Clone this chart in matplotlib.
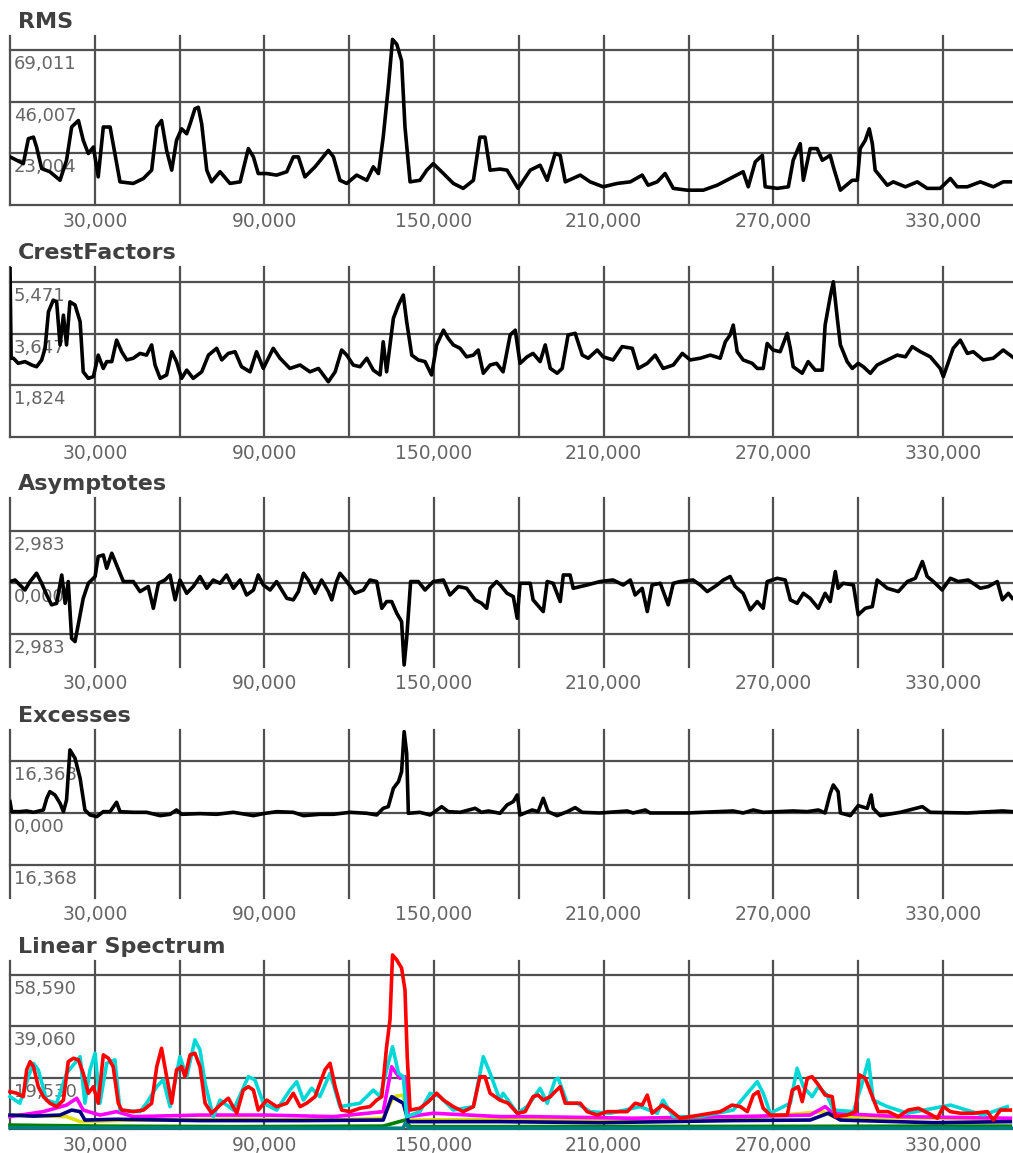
import matplotlib
matplotlib.use("Agg")
import matplotlib.pyplot as plt

# ---- data (x shared scale, 0 .. ~355) ----
x_grid = [0, 30, 60, 90, 120, 150, 180, 210, 240, 270, 300, 330]
x_labeled = [30, 90, 150, 210, 270, 330]
x_max = 354.75

rms_x = [0, 2.4, 4.7, 6.5, 8.3, 9.4, 11.2, 14.1, 17.7, 20.0, 21.8, 24.2, 25.9, 27.7, 29.5, 31.2, 33.0,
         35.4, 37.1, 38.9, 43.6, 47.2, 50.1, 51.9, 53.6, 55.4, 57.2, 58.9, 60.7, 62.5, 63.7, 65.4, 66.6,
         67.8, 69.6, 71.3, 74.3, 77.8, 81.4, 84.3, 86.1, 87.8, 90.8, 94.3, 97.9, 100.2, 102.0, 104.3,
         107.9, 112.6, 114.4, 116.7, 119.1, 122.6, 126.2, 128.5, 130.3, 132.0, 133.8, 135.3, 136.8,
         138.5, 139.7, 141.5, 145.0, 147.4, 149.7, 153.3, 156.8, 160.3, 163.9, 166.2, 168.0, 169.8,
         173.3, 175.8, 179.7, 184.0, 187.5, 190.0, 192.8, 194.6, 196.4, 201.7, 205.2, 209.8, 214.8,
         219.4, 223.6, 225.7, 228.9, 231.7, 234.6, 239.5, 245.2, 250.1, 255.8, 259.3, 261.1, 263.6,
         266.1, 267.1, 271.4, 275.3, 277.0, 279.5, 280.6, 283.0, 285.5, 287.3, 290.1, 291.2, 293.7,
         297.9, 299.7, 300.7, 302.5, 303.9, 305.0, 306.0, 310.3, 312.4, 316.7, 320.9, 324.4, 329.0,
         332.6, 335.0, 338.6, 343.2, 347.8, 351.3, 353.8]
rms_y = [21.4, 19.9, 18.4, 29.5, 30.2, 25.8, 16.2, 14.8, 11.0, 19.9, 34.7, 37.6, 28.8, 22.9, 25.8, 12.5,
         34.7, 34.7, 22.9, 10.3, 9.6, 11.8, 15.5, 34.7, 37.6, 24.3, 15.5, 28.8, 33.9, 31.7, 36.1, 42.8,
         43.5, 36.1, 15.5, 10.3, 14.8, 9.6, 10.3, 25.1, 21.4, 14.0, 14.0, 13.3, 14.8, 21.4, 21.4, 12.5,
         17.0, 24.3, 21.4, 11.0, 9.6, 13.3, 11.0, 17.0, 14.0, 30.2, 52.4, 73.7, 71.5, 64.2, 34.7, 10.3,
         11.0, 15.5, 18.4, 14.0, 9.6, 7.4, 11.0, 30.2, 30.2, 15.5, 16.0, 15.5, 7.4, 15.5, 17.7, 11.0,
         22.9, 22.1, 10.3, 13.3, 10.3, 8.1, 9.6, 10.3, 13.3, 8.8, 10.3, 14.0, 7.4, 6.6, 6.6, 8.8, 12.5,
         14.8, 8.1, 19.2, 22.1, 8.1, 7.4, 8.1, 19.9, 27.3, 11.0, 25.1, 25.1, 19.9, 22.1, 17.0, 6.6,
         11.0, 11.0, 25.1, 28.8, 33.9, 27.3, 15.5, 8.8, 10.3, 8.1, 10.3, 7.4, 7.4, 11.8, 8.1, 8.1,
         10.3, 8.1, 10.3, 10.3]

crest_x = [0, 0.4, 1.2, 2.9, 5.3, 7.7, 9.4, 11.2, 12.4, 13.6, 15.3, 16.5, 17.7, 18.9, 20.0, 21.2, 23.0,
           24.8, 25.9, 27.7, 29.5, 31.2, 33.0, 34.2, 36.0, 37.7, 39.5, 41.3, 43.6, 46.0, 48.3, 50.1,
           51.3, 53.1, 55.4, 57.2, 58.9, 60.7, 62.5, 64.8, 67.8, 70.2, 73.1, 74.9, 77.2, 79.6, 81.9,
           84.9, 87.2, 89.6, 93.1, 95.5, 99.0, 102.6, 106.1, 109.1, 112.6, 115.0, 117.3, 119.1, 121.4,
           123.8, 126.2, 128.5, 130.9, 132.0, 133.2, 135.6, 137.4, 139.1, 140.3, 142.1, 144.4, 146.8,
           149.1, 150.9, 153.3, 155.0, 156.8, 159.2, 161.5, 163.9, 165.6, 167.4, 169.8, 172.1,
           174.4, 176.9, 178.7, 180.4, 182.9, 185.0, 187.5, 189.3, 191.1, 193.5, 195.3, 197.4, 199.9,
           202.4, 204.5, 207.7, 209.8, 213.3, 216.5, 220.1, 222.2, 225.4, 228.2, 231.0, 234.6, 237.8,
           240.6, 244.1, 247.7, 251.2, 253.0, 254.7, 255.8, 257.2, 259.3, 262.5, 264.3, 266.4, 267.8,
           269.9, 272.4, 274.9, 276.0, 277.0, 280.2, 282.3, 284.8, 287.3, 288.3, 290.1, 291.2, 292.6,
           293.7, 296.1, 297.9, 300.0, 301.8, 304.3, 306.7, 310.3, 313.8, 316.7, 319.1, 322.0, 325.5,
           329.0, 330.1, 333.6, 336.1, 338.6, 340.7, 344.2, 347.8, 351.3, 354.5]
crest_y = [6.0, 2.78, 2.78, 2.60, 2.66, 2.54, 2.48, 2.72, 3.13, 4.42, 4.83, 4.77, 3.25, 4.30, 3.25, 4.77,
           4.66, 4.07, 2.30, 2.07, 2.13, 2.89, 2.42, 2.66, 2.66, 3.42, 3.01, 2.72, 2.78, 2.95, 2.89,
           3.25, 2.54, 2.07, 2.19, 3.01, 2.66, 2.07, 2.36, 2.07, 2.30, 2.89, 3.13, 2.72, 2.95, 3.01,
           2.48, 2.30, 3.01, 2.42, 3.13, 2.78, 2.42, 2.54, 2.30, 2.42, 1.95, 2.30, 3.07, 2.89, 2.54,
           2.48, 2.78, 2.36, 2.19, 3.36, 2.30, 4.19, 4.66, 5.01, 4.07, 2.89, 2.72, 2.66, 2.19, 3.25,
           3.77, 3.48, 3.25, 3.13, 2.83, 2.89, 3.07, 2.25, 2.54, 2.60,
           2.30, 3.60, 3.77, 2.60, 2.83, 2.95, 2.66, 3.25, 2.42, 2.25, 2.42, 3.60, 3.66, 2.89, 2.78,
           3.07, 2.83, 2.72, 3.19, 3.13, 2.42, 2.60, 2.89, 2.42, 2.54, 2.95, 2.72, 2.78, 2.89, 2.78,
           3.36, 3.60, 3.95, 3.01, 2.72, 2.60, 2.42, 2.42, 3.30, 3.07, 3.01, 3.66, 3.13, 2.48, 2.25,
           2.66, 2.36, 2.36, 3.95, 4.95, 5.48, 4.19, 3.25, 2.66, 2.42, 2.60, 2.48, 2.25, 2.54, 2.72,
           2.89, 2.83, 3.19, 3.01, 2.83, 2.42, 2.13, 3.13, 3.42, 2.95, 3.01, 2.72, 2.78, 3.07, 2.83]

asym_x = [0, 1.8, 3.5, 5.3, 7.1, 9.4, 11.2, 13.0, 14.7, 16.5, 18.3, 19.5, 20.6, 21.8, 23.0, 24.8, 25.9,
          27.7, 30.1, 31.2, 33.0, 34.2, 36.0, 37.7, 40.1, 43.6, 46.0, 48.9, 50.7, 52.5, 54.8, 56.6,
          58.4, 60.1, 62.5, 64.8, 67.2, 69.6, 71.9, 74.3, 76.6, 79.0, 81.4, 83.7, 86.1, 87.8, 89.6,
          92.0, 94.3, 97.9, 100.2, 102.0, 103.8, 105.5, 107.9, 110.2, 112.6, 113.8, 115.5, 116.7,
          119.1, 122.0, 125.0, 127.3, 129.7, 131.5, 133.2, 135.0, 136.8, 138.5, 139.4, 140.3, 141.7,
          144.4, 146.8, 149.7, 153.3, 155.6, 158.6, 161.5, 164.5, 166.8, 168.6, 169.8, 172.1,
          173.4, 175.8, 178.0, 179.4, 180.4, 184.0, 185.0, 188.6, 190.0, 192.1, 194.6, 195.7, 198.1,
          199.2, 204.1, 208.7, 213.3, 216.9, 219.4, 221.1, 223.6, 225.4, 227.1, 230.0, 232.8, 234.6,
          237.0, 241.6, 244.1, 246.6, 250.1, 252.3, 254.7, 256.5, 259.3, 261.8, 264.3, 266.4, 267.8,
          271.4, 274.2, 276.0, 278.4, 280.6, 283.0, 285.9, 288.3, 290.1, 291.9, 292.9, 294.7, 298.3,
          300.0, 302.5, 305.0, 306.7, 310.3, 314.2, 317.4, 320.2, 322.7, 324.4, 326.6, 329.7, 332.6,
          335.4, 338.9, 343.2, 346.0, 349.2, 351.0, 353.1, 354.5]
asym_y = [0.08, 0.17, -0.12, -0.41, 0.08, 0.56, -0.02, -0.70, -1.27, -1.18, 0.46, -1.18, 0.08, -3.21,
          -3.40, -1.85, -0.89, -0.02, 0.37, 1.53, 1.62, 0.85, 1.72, 1.04, 0.08, 0.08, -0.50, -0.21,
          -1.47, -0.02, 0.17, 0.46, -0.98, 0.17, -0.60, -0.21, 0.37, -0.31, 0.17, -0.02, 0.46, -0.31,
          0.17, -0.70, -0.41, 0.46, -0.12, -0.41, 0.08, -0.89, -0.98, -0.50, 0.56, 0.17, -0.60, 0.17,
          -0.50, -0.98, 0.08, 0.56, 0.08, -0.60, -0.41, 0.17, 0.08, -1.47, -1.08, -1.08, -1.76, -2.24,
          -4.75, -3.21, 0.08, 0.08, -0.41, 0.08, 0.17, -0.70, -0.21, -0.31, -0.98, -1.18, -1.47,
          -0.31, 0.08,
          -0.12, -0.60, -0.79, -2.05, -0.02, -0.02, -0.98, -1.66, 0.08, -0.02, -1.08, 0.46, 0.46,
          -0.31, -0.12, 0.08, 0.17, -0.12, 0.17, -0.70, -0.31, -1.66, -0.12, -0.02, -1.27, -0.02,
          0.08, 0.17, -0.12, -0.50, -0.12, 0.17, 0.37, -0.21, -0.60, -1.56, -1.08, -1.47, 0.08, 0.27,
          0.17, -0.98, -1.18, -0.60, -0.89, -1.47, -0.60, -1.08, 0.66, -0.31, -0.02, -0.12, -1.85,
          -1.47, -1.37, 0.17, -0.31, -0.50, 0.08, 0.27, 1.24, 0.37, 0.08, -0.41, 0.27, 0.08, 0.17,
          -0.31, -0.21, 0.08, -0.98, -0.60, -0.89]

exc_x = [0, 0.6, 3.5, 5.9, 8.3, 11.8, 13.0, 14.1, 15.9, 17.7, 18.9, 20.0, 21.2, 23.0, 24.8, 26.5,
         28.3, 30.7, 33.0, 35.4, 37.7, 38.9, 43.6, 48.3, 53.1, 56.6, 58.9, 60.7, 67.2, 73.1, 79.0,
         86.1, 89.6, 94.3, 100.2, 103.8, 109.6, 114.4, 120.3, 126.2, 129.7, 132.0, 133.8, 135.6,
         137.4, 138.5, 139.4, 140.3, 140.9, 145.0, 148.6, 152.7, 155.0, 159.2, 164.5, 166.8, 169.2,
         173.3,
         175.8, 178.0, 179.4, 180.4, 184.7, 186.8, 188.6, 190.3, 193.5, 197.1, 199.9, 202.4, 208.7,
         218.3, 220.4, 224.7, 226.4, 239.5, 255.8, 259.3, 262.9, 266.4, 277.0, 282.0, 285.9, 288.3,
         290.1, 291.2, 292.9, 293.7, 297.2, 300.0, 303.2, 304.6, 305.3, 307.8, 314.9, 322.7, 325.5,
         338.6, 351.0, 354.5]
exc_y = [3.57, 0.42, 0.42, 0.63, 0.21, 0.94, 4.62, 6.71, 5.66, 3.04, 0.42, 4.09, 19.83, 17.2, 10.9,
         0.94, -0.63, -1.15, 0.42, 0.42, 3.36, 0.42, 0.21, 0.21, -0.84, -0.42, 0.94, -0.42, -0.21,
         -0.42, 0.21, -0.84, -0.21, 0.42, 0.21, -0.84, -0.42, -0.42, 0.21, -0.1, -0.63, 1.47, 1.99,
         7.76, 9.86, 13.0, 25.6, 18.8, -0.1, 0.21, -0.63, 1.99, 0.42, 0.21, 1.47, 0.21, 0.63, -0.1,
         2.52, 3.57, 5.66, -0.63, 0.94, 0.42, 4.62, 0.42, -0.84, 0.42, 1.68, 0.21, 0, 0.63, 0, 0.94,
         0, 0, 0.63, 0, 0.94, 0.21, 0.63, 0.42, 0.94, 0, 6.19, 8.81, 6.71, 0, -0.84, 2.31, 1.47,
         5.66, 1.47, -0.84, 0.21, 1.99, 0.21, 0, 0.63, 0.42]

# Linear Spectrum: one line per band
red_x = [0, 2.4, 4.7, 5.9, 7.1, 8.3, 10.0, 11.8, 14.1, 16.5, 18.9, 20.6, 22.4, 24.2, 25.9, 27.7, 29.5,
         31.2, 33.0, 34.8, 36.5, 38.3, 39.5, 43.6, 47.2, 50.1, 51.9, 53.6, 55.4, 57.2, 58.9, 60.7,
         61.9, 63.7, 65.4, 67.2, 69.0, 71.3, 74.3, 77.2, 80.2, 82.5, 84.3, 86.1, 87.8, 90.8, 94.3,
         97.9, 100.2, 102.6, 104.9, 107.9, 111.4, 113.2, 115.0, 117.3, 120.3, 123.8, 127.3, 129.7,
         131.5, 133.2, 134.4, 135.3, 136.8, 138.5, 139.7, 140.5, 141.5, 145.0, 148.0, 150.9, 153.3,
         156.8, 160.3, 163.9, 166.2, 168.0, 169.8, 173.3,
         176.2, 179.4, 182.2, 185.0, 186.8, 188.6, 191.1, 192.8, 194.6, 196.4, 198.8, 201.7, 204.1,
         207.7, 211.2, 214.8, 218.3, 221.1, 223.6, 225.4, 227.1, 230.7, 233.5, 237.0, 244.1, 251.2,
         255.4, 258.3, 260.8, 262.9, 264.6, 266.4, 268.9, 274.9, 276.7, 278.8, 280.2, 282.0, 283.7,
         285.9, 288.3, 290.8, 291.9, 296.1, 299.0, 300.4, 302.5, 305.0, 307.1, 310.6, 314.2, 317.7,
         321.3, 324.8, 328.0, 330.1, 332.6, 336.1, 340.7, 345.7, 347.8, 350.3, 353.8]
red_y = [14.2, 13.6, 12.3, 22.5, 25.6, 23.7, 16.1, 12.3, 9.8, 8.5, 11.0, 25.6, 26.9, 26.3, 21.2, 13.6,
         16.1, 9.8, 28.2, 26.9, 23.7, 9.8, 7.2, 6.6, 7.2, 9.8, 23.7, 30.7, 19.9, 9.8, 22.5, 23.7, 19.9,
         28.2, 28.8, 23.7, 9.8, 6.0, 9.1, 11.7, 6.0, 14.8, 16.1, 14.8, 7.2, 11.0, 8.5, 9.8, 13.6, 8.5,
         9.8, 12.3, 22.5, 25.0, 16.1, 7.2, 6.6, 7.9, 8.5, 11.0, 12.3, 31.3, 41.5, 66.2, 64.3, 61.2,
         52.9, 27.5, 7.2, 7.9, 10.4, 13.6, 11.0, 8.5, 6.6, 8.5, 19.9, 19.9, 13.6, 11.0,
         9.8, 6.0, 6.6, 12.3, 12.9, 11.0, 12.3, 14.2, 16.1, 9.8, 9.8, 9.8, 6.6, 5.3, 6.6, 6.6, 6.6,
         9.8, 9.1, 12.9, 6.0, 9.1, 7.2, 4.1, 5.3, 6.6, 9.1, 8.5, 6.6, 12.9, 14.2, 7.9, 5.3, 5.3, 14.8,
         16.1, 10.4, 19.3, 19.9, 16.8, 12.9, 12.3, 4.7, 5.3, 6.6, 20.6, 19.3, 12.3, 6.6, 6.6, 4.7,
         7.2, 7.9, 6.0, 4.1, 8.5, 6.6, 6.0, 6.0, 6.6, 3.4, 7.2, 7.2]

cyan_x = [0, 3.5, 6.5, 8.3, 10.0, 12.9, 16.5, 20.0, 24.8, 26.5, 28.3, 30.1, 31.8, 34.2, 37.1, 38.9,
          46.0, 48.3, 51.9, 54.2, 56.6, 60.1, 62.5, 65.4, 67.2, 69.0, 71.9, 74.3, 79.0, 84.3, 86.6,
          89.6, 94.3, 99.0, 101.4, 103.8, 106.7, 109.6, 113.2, 116.7, 123.8, 128.5, 130.9, 133.2,
          135.3, 137.4, 139.1, 140.3, 145.0, 148.6, 152.1, 156.8, 163.9, 167.4, 169.8, 173.3,
          174.4, 179.4, 182.9, 187.5, 190.0, 192.8, 193.9, 197.1, 200.6, 205.2, 212.3, 222.9, 228.9,
          231.0, 234.6, 244.1, 255.8, 264.3, 266.4, 268.9, 276.0, 278.4, 280.6, 283.7, 285.9, 289.0,
          291.2, 298.3, 301.4, 303.6, 305.3, 310.3, 317.4, 332.6, 344.2, 352.7]
cyan_y = [12.3, 9.8, 19.9, 25.0, 22.5, 11.0, 9.8, 21.2, 27.5, 9.8, 22.5, 28.8, 9.8, 25.0, 26.3, 7.2,
          6.6, 9.8, 16.1, 18.7, 8.5, 27.5, 19.9, 33.9, 30.1, 17.4, 4.7, 11.0, 7.2, 19.9, 18.7, 9.8,
          7.2, 14.8, 18.0, 11.0, 15.5, 12.3, 21.2, 8.5, 9.8, 14.8, 12.3, 22.5, 31.3, 21.2, 19.9, 4.7,
          6.6, 13.6, 12.3, 7.2, 8.5, 27.5, 21.2, 11.0,
          13.6, 6.0, 8.5, 15.5, 9.8, 18.7, 19.3, 9.8, 9.8, 6.6, 6.0, 8.5, 6.0, 11.0, 4.7, 4.7, 7.2,
          18.0, 13.6, 6.0, 9.8, 23.1, 16.1, 12.3, 16.1, 12.9, 7.2, 6.6, 17.4, 26.3, 11.0, 8.5, 6.0,
          9.1, 5.3, 8.5]

magenta_x = [0, 11.8, 20.0, 23.6, 25.9, 31.8, 37.7, 43.6, 67.2, 90.8, 114.4, 132.0, 135.0, 137.9,
             139.7, 140.9, 149.7, 173.3, 185.0, 220.4, 255.8, 283.0, 288.3, 291.2, 314.9, 353.8]
magenta_y = [4.7, 6.6, 9.1, 11.7, 7.2, 5.3, 6.6, 4.7, 5.3, 5.3, 4.7, 6.6, 23.7, 19.3, 19.9, 4.7, 6.0,
             4.7, 4.7, 4.1, 4.7, 5.3, 8.5, 6.0, 4.7, 4.1]

yellow_x = [0, 20.0, 24.8, 43.6, 79.0, 114.4, 132.0, 135.6, 139.1, 140.9, 173.3, 208.7, 255.8, 287.6,
            291.2, 353.8]
yellow_y = [5.3, 4.7, 2.8, 3.4, 3.7, 3.4, 4.1, 12.3, 12.9, 3.4, 3.7, 3.4, 3.7, 6.6, 4.7, 3.7]

navy_x = [0, 8.3, 17.7, 21.8, 24.8, 26.5, 37.7, 67.2, 102.6, 132.0, 135.0, 139.1, 140.9, 173.3, 208.7,
          232.4, 255.8, 283.0, 289.4, 293.7, 326.6, 353.8]
navy_y = [5.3, 4.9, 5.3, 7.2, 6.6, 3.4, 3.7, 3.2, 3.2, 3.4, 12.3, 9.8, 2.8, 2.8, 2.4, 2.8, 3.2, 3.4,
          6.0, 3.4, 2.4, 2.8]

green_x = [0, 31.8, 79.0, 132.0, 139.7, 141.5, 173.3, 260.0, 353.8]
green_y = [1.5, 1.1, 0.9, 1.1, 3.4, 0.9, 0.9, 1.0, 1.1]

teal_x = [0, 100.0, 139.0, 140.0, 141.0, 250.0, 354.5]
teal_y = [0.5, 0.3, 0.3, 2.5, 0.3, 0.3, 0.3]

# ---- layout ----
W, H = 1013, 1153
grid_grey = "#505050"
label_grey = "#666666"
title_grey = "#404040"


def fmt(v):
    return f"{abs(v):.3f}".replace(".", ",")


def panel(fig, top, bottom, title, ylo, yhi, yticks, ylabels):
    ax = fig.add_axes([10 / W, 1 - bottom / H, 1003 / W, (bottom - top) / H])
    ax.set_xlim(0, x_max)
    ax.set_ylim(ylo, yhi)
    for s in ax.spines.values():
        s.set_visible(False)
    ax.set_xticks(x_grid)
    ax.set_xticklabels([fmt(v) if v in x_labeled else "" for v in x_grid])
    ax.set_yticks(yticks)
    ax.set_yticklabels([])
    ax.tick_params(length=0, labelsize=13.5, colors=label_grey, pad=5)
    ax.set_axisbelow(True)
    ax.grid(True, color=grid_grey, lw=1.6)
    for g in ax.get_xgridlines() + ax.get_ygridlines():
        g.set_clip_on(False)
    for v in ylabels:
        ax.annotate(fmt(v), xy=(0, v), xycoords=("axes fraction", "data"),
                    xytext=(4, -5), textcoords="offset pixels", va="top", ha="left",
                    fontsize=13, color=label_grey, zorder=1.5)
    ax.annotate(title, xy=(0, 1), xycoords="axes fraction", xytext=(8, 8),
                textcoords="offset pixels", va="baseline", ha="left",
                fontsize=16, fontweight="bold", color=title_grey)
    return ax


fig = plt.figure(figsize=(W / 100, H / 100), dpi=100)
fig.patch.set_facecolor("white")

lw = 2.6

ax = panel(fig, 36, 205, "RMS", 0, 75.2, [0, 23.004, 46.007, 69.011], [23.004, 46.007, 69.011])
ax.plot(rms_x, rms_y, color="black", lw=lw, zorder=2)

ax = panel(fig, 267, 437, "CrestFactors", 0, 6.0, [0, 1.824, 3.647, 5.471], [1.824, 3.647, 5.471])
ax.plot(crest_x, crest_y, color="black", lw=lw, zorder=2)

ax = panel(fig, 498, 667, "Asymptotes", -4.87, 4.92, [-2.983, 0, 2.983], [2.983, 0, -2.983])
ax.plot(asym_x, asym_y, color="black", lw=lw, zorder=2)

ax = panel(fig, 730, 898, "Excesses", -26.75, 26.1, [-16.368, 0, 16.368], [16.368, 0, -16.368])
ax.plot(exc_x, exc_y, color="black", lw=lw, zorder=2)

ax = panel(fig, 961, 1129, "Linear Spectrum", 0, 63.9, [0, 19.530, 39.060, 58.590],
           [19.530, 39.060, 58.590])
spectrum = [(green_x, green_y, "#008000"), (teal_x, teal_y, "#008080"),
            (yellow_x, yellow_y, "#e0e000"), (magenta_x, magenta_y, "#ff00ff"),
            (navy_x, navy_y, "#000080"), (cyan_x, cyan_y, "#00d8d8"),
            (red_x, red_y, "#ff0000")]
for xs, ys, c in spectrum:
    ax.plot(xs, ys, color=c, lw=lw, zorder=2, clip_on=False)

fig.savefig("out.png", dpi=100, facecolor="white")
